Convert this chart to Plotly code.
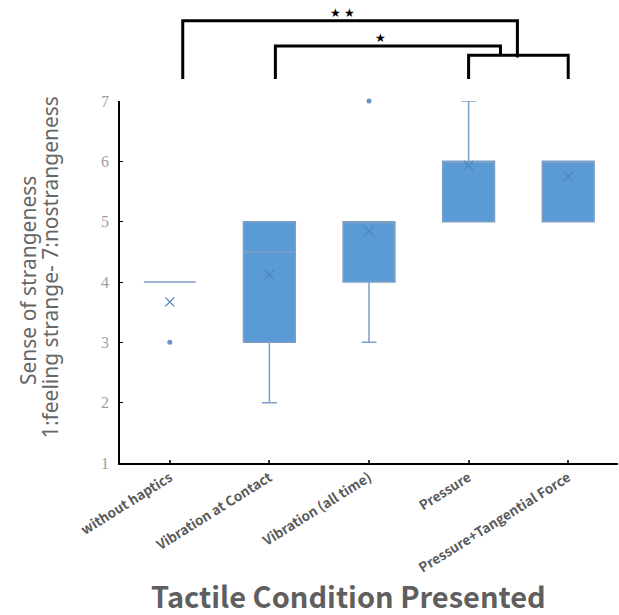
import plotly.graph_objects as go

categories = ["without haptics", "Vibration at Contact", "Vibration (all time)",
              "Pressure", "Pressure+Tangential Force"]
xpos = [0, 1, 2, 3, 4]
q1 = [4, 3, 4, 5, 5]
median = [4, 4.5, 5, 6, 6]
q3 = [4, 5, 5, 6, 6]
lowerfence = [4, 2, 3, 5, 5]
upperfence = [4, 5, 5, 7, 6]
means = [3.67, 4.12, 4.84, 5.93, 5.75]
outlier_x = [0, 2]
outlier_y = [3, 7]
ytick_vals = [1, 2, 3, 4, 5, 6, 7]
ytitle_lines = ["Sense of strangeness", "1:feeling strange- 7:nostrangeness"]

# significance brackets (x in category units, y in score units above the plot)
brackets = [
    ([0.13, 0.13, 3.49, 3.49], [7.365, 8.33, 8.33, 7.72]),
    ([1.06, 1.06, 3.32, 3.32], [7.365, 7.91, 7.91, 7.76]),
    ([3.0, 3.0, 4.0, 4.0], [7.365, 7.76, 7.76, 7.365]),
]
stars = [("★ ★", 1.73, 8.47), ("★", 2.12, 8.05)]

BLUE = "#5B9BD5"
fig = go.Figure()
fig.add_trace(go.Box(
    x=xpos, q1=q1, median=median, q3=q3,
    lowerfence=lowerfence, upperfence=upperfence,
    width=0.52, whiskerwidth=0.29,
    fillcolor=BLUE, line=dict(color="#7d9fc6", width=1.5),
    boxpoints=False, showlegend=False, hoverinfo="skip",
))
fig.add_trace(go.Scatter(
    x=xpos, y=means, mode="markers", showlegend=False,
    marker=dict(symbol="x-thin", size=9, line=dict(color="#4f86c0", width=1.3)),
))
fig.add_trace(go.Scatter(
    x=outlier_x, y=outlier_y, mode="markers", showlegend=False, cliponaxis=False,
    marker=dict(symbol="circle", size=5, color="#6b93c4"),
))
for bx, by in brackets:
    fig.add_trace(go.Scatter(
        x=bx, y=by, mode="lines", yaxis="y2", showlegend=False,
        line=dict(color="black", width=3), hoverinfo="skip",
    ))
for txt, sx, sy in stars:
    fig.add_annotation(x=sx, y=sy, xref="x", yref="y2", text=txt, showarrow=False,
                       font=dict(size=12, color="black"))

for line_text, ax, ay in zip(ytitle_lines, [-0.1847, -0.1406], [0.393, 0.423]):
    fig.add_annotation(
        x=ax, y=ay, xref="paper", yref="paper", textangle=-90,
        xanchor="center", yanchor="middle", text=line_text, showarrow=False,
        font=dict(family="Noto Sans", size=21, color="#666666"),
    )
fig.add_annotation(
    x=0.459, y=-0.285, xref="paper", yref="paper",
    xanchor="center", yanchor="middle",
    text="<b>Tactile Condition Presented</b>", showarrow=False,
    font=dict(family="Noto Sans CJK JP", size=29, color="#5f5f5f"),
)

SPLIT = 362 / 463
fig.update_layout(
    width=619, height=615,
    margin=dict(l=120, r=1, t=0, b=152, autoexpand=False),
    plot_bgcolor="white", paper_bgcolor="white",
    xaxis=dict(range=[-0.5, 4.5], tickvals=xpos,
               ticktext=["<b>%s</b>" % c for c in categories],
               tickangle=-32, showline=True, linecolor="black", linewidth=1.5,
               ticks="inside", ticklen=3, tickwidth=2, tickcolor="#333",
               showgrid=False, zeroline=False, anchor="y", automargin=False,
               tickfont=dict(family="Noto Sans CJK JP", size=13.5, color="#5a5a5a")),
    yaxis=dict(domain=[0, SPLIT], range=[1, 7], tickvals=ytick_vals,
               showline=True, linecolor="black", linewidth=1.5,
               ticks="inside", ticklen=3, tickcolor="black", automargin=False,
               showgrid=False, zeroline=False, ticklabelstandoff=6,
               tickfont=dict(family="Liberation Serif", size=16, color="#a0a0a0")),
    yaxis2=dict(domain=[SPLIT, 1], range=[7, 7 + 101 / 60.33], visible=False,
                anchor="x"),
)
fig.write_html("out.html")
